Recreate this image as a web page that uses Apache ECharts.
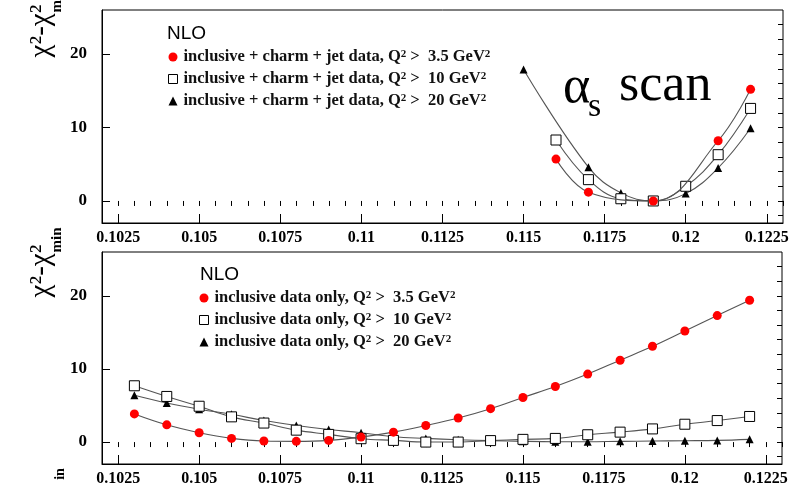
<!DOCTYPE html>
<html><head><meta charset="utf-8">
<script src="https://cdn.jsdelivr.net/npm/echarts@6/dist/echarts.min.js"></script>
<style>html,body{margin:0;padding:0;background:#fff}#c{width:793px;height:487px}</style>
</head><body><div id="c"></div>
<script>
// ---- tick labels ----
const xTickLabels = ['0.1025','0.105','0.1075','0.11','0.1125','0.115','0.1175','0.12','0.1225'];
const yTickLabels = [0, 10, 20];
const yMinorTicks = [-2,0,2,4,6,8,10,12,14,16,18,20,22,24];

// ---- top panel: inclusive + charm + jet data ----
const topNames = ['inclusive + charm + jet data, Q² >  3.5 GeV²','inclusive + charm + jet data, Q² >  10 GeV²','inclusive + charm + jet data, Q² >  20 GeV²'];
const topRedX = [0.116, 0.117, 0.119, 0.121, 0.122];
const topRedY = [5.7, 1.2, 0.0, 8.2, 15.2];
const topSqX  = [0.116, 0.117, 0.118, 0.119, 0.120, 0.121, 0.122];
const topSqY  = [8.3, 2.9, 0.3, 0.0, 2.0, 6.3, 12.6];
const topTriX = [0.115, 0.117, 0.118, 0.119, 0.120, 0.121, 0.122];
const topTriY = [17.9, 4.6, 1.1, 0.0, 1.0, 4.5, 9.9];

// ---- bottom panel: inclusive data only ----
const botNames = ['inclusive data only, Q² >  3.5 GeV²','inclusive data only, Q² >  10 GeV²','inclusive data only, Q² >  20 GeV²'];
const botX   = [0.103,0.104,0.105,0.106,0.107,0.108,0.109,0.110,0.111,0.112,0.113,0.114,0.115,0.116,0.117,0.118,0.119,0.120,0.121,0.122];
const botRed = [3.85,2.36,1.27,0.5,0.14,0.1,0.23,0.68,1.36,2.27,3.3,4.57,6.1,7.6,9.3,11.2,13.1,15.2,17.3,19.4];
const botSq  = [7.7,6.24,4.9,3.45,2.6,1.63,1.05,0.46,0.23,0.0,0.0,0.2,0.37,0.5,1.0,1.36,1.8,2.44,2.94,3.5];
const botTri = [6.4,5.35,4.5,3.8,2.94,2.27,1.72,1.27,0.73,0.5,0.32,0.2,0.1,0.05,0.05,0.1,0.14,0.18,0.23,0.37];

const xTicks = xTickLabels.map(Number);
const xMinor = [];
for (let k = 0; k <= 42; k++) xMinor.push(+(0.102 + k * 0.0005).toFixed(4));
const zip = (xs, ys) => xs.map((x, i) => [x, ys[i]]);

const SERIF = 'Liberation Serif';
const grids = [
  {left: 102, top: 10, width: 681, height: 213, show: true, borderColor: '#000', borderWidth: 1},
  {left: 102, top: 252, width: 680, height: 212, show: true, borderColor: '#000', borderWidth: 1}
];
function xMain(g) {
  return {type:'value', gridIndex:g, min:0.102, max:0.123,
    axisLine:{show:true, onZero:false, lineStyle:{color:'#000', width:1}},
    axisTick:{show:true, inside:true, length:9, customValues:xTicks, lineStyle:{color:'#000'}},
    axisLabel:{show:true, customValues:xTicks, margin:7, color:'#000', fontFamily:SERIF, fontWeight:'bold', fontSize:16,
      formatter: v => { const i = xTicks.findIndex(t => Math.abs(t - v) < 1e-9); return i >= 0 ? xTickLabels[i] : ''; }},
    splitLine:{show:false}};
}
function xMin(g) {
  return {type:'value', gridIndex:g, min:0.102, max:0.123,
    axisLine:{show:false}, axisLabel:{show:false}, splitLine:{show:false},
    axisTick:{show:true, inside:true, length:5, customValues:xMinor, lineStyle:{color:'#000'}}};
}
function yMain(g) {
  return {type:'value', gridIndex:g, min:-3, max:26,
    axisLine:{show:true, onZero:false, lineStyle:{color:'#000', width:1}},
    axisTick:{show:true, inside:true, length:8, customValues:yTickLabels, lineStyle:{color:'#000'}},
    axisLabel:{show:true, customValues:yTickLabels, margin:15, color:'#000', fontFamily:SERIF, fontWeight:'bold', fontSize:17},
    splitLine:{show:false}};
}
function yMin(g) {
  return {type:'value', gridIndex:g, min:-3, max:26,
    axisLine:{show:false}, axisLabel:{show:false}, splitLine:{show:false},
    axisTick:{show:true, inside:true, length:5, customValues:yMinorTicks, lineStyle:{color:'#000'}}};
}
const LINE = {color:'#555', width:1.1};
function ser(name, data, g, kind) {
  const s = {type:'line', name, data, xAxisIndex: g*2, yAxisIndex: g*2, smooth:0.4,
    lineStyle: LINE, showSymbol:true, animation:false};
  if (kind === 'red') { s.symbol = 'circle'; s.symbolSize = 9; s.itemStyle = {color:'#ff0000'}; s.z = 4; }
  if (kind === 'sq') { s.symbol = 'rect'; s.symbolSize = 10; s.itemStyle = {color:'#fff', borderColor:'#000', borderWidth:1}; s.z = 3; }
  if (kind === 'tri') { s.symbol = 'triangle'; s.symbolSize = 8; s.itemStyle = {color:'#000'}; s.z = 2; }
  return s;
}
const LEGFONT = {fontFamily:SERIF, fontWeight:'bold', color:'#111'};
function legend(names, left, top) {
  return {orient:'vertical', left, top, itemWidth:9, itemHeight:9, itemGap:5, selectedMode:false,
    formatter: n => n.split('²').map(p => p ? '{t|' + p + '}' : '').join('{s|2}'),
    textStyle:Object.assign({fontSize:16.5, padding:[0,0,0,1],
      rich:{t:Object.assign({fontSize:16.5, lineHeight:16, verticalAlign:'bottom'}, LEGFONT),
            s:Object.assign({fontSize:11, lineHeight:11, verticalAlign:'top'}, LEGFONT)}}, LEGFONT),
    data:[{name:names[0], icon:'circle', itemStyle:{color:'#ff0000'}},
          {name:names[1], icon:'rect', itemStyle:{color:'#fff', borderColor:'#000', borderWidth:1}},
          {name:names[2], icon:'triangle', itemStyle:{color:'#000'}}]};
}
function txt(text, x, y, font) {
  return {type:'text', x, y, style:{text, font, fill:'#000', align:'left', verticalAlign:'middle'}};
}
function vtxt(text, x, y, font) {
  return {type:'text', x, y, rotation: Math.PI/2, style:{text, font, fill:'#000', align:'center', verticalAlign:'middle'}};
}

const option = {
  backgroundColor:'#fff',
  animation:false,
  grid: grids,
  xAxis: [xMain(0), xMin(0), xMain(1), xMin(1)],
  yAxis: [yMain(0), yMin(0), yMain(1), yMin(1)],
  legend: [legend(topNames, 163, 43), legend(botNames, 194, 284)],
  series: [
    ser(topNames[2], zip(topTriX, topTriY), 0, 'tri'),
    ser(topNames[1], zip(topSqX, topSqY), 0, 'sq'),
    ser(topNames[0], zip(topRedX, topRedY), 0, 'red'),
    ser(botNames[2], zip(botX, botTri), 1, 'tri'),
    ser(botNames[1], zip(botX, botSq), 1, 'sq'),
    ser(botNames[0], zip(botX, botRed), 1, 'red')
  ],
  graphic: [
    txt('NLO', 167, 34, '19px "Liberation Sans"'),
    txt('NLO', 200, 275, '19px "Liberation Sans"'),
    txt('α', 563, 88, '52px "Liberation Serif"'),
    txt('s', 588, 107, '34px "Liberation Serif"'),
    txt('scan', 619, 86, '52px "Liberation Serif"'),
    vtxt('χ²-χ²', 41, 31, '29px "Liberation Serif"'),
    vtxt('min', 57, 0, 'bold 15px "Liberation Serif"'),
    vtxt('χ²-χ²', 41, 271, '29px "Liberation Serif"'),
    vtxt('min', 57, 240, 'bold 15px "Liberation Serif"'),
    vtxt('in', 60, 474, 'bold 14px "Liberation Serif"')
  ]
};
const chart = echarts.init(document.getElementById('c'), null, {renderer:'canvas'});
chart.setOption(option);
</script>
</body></html>
